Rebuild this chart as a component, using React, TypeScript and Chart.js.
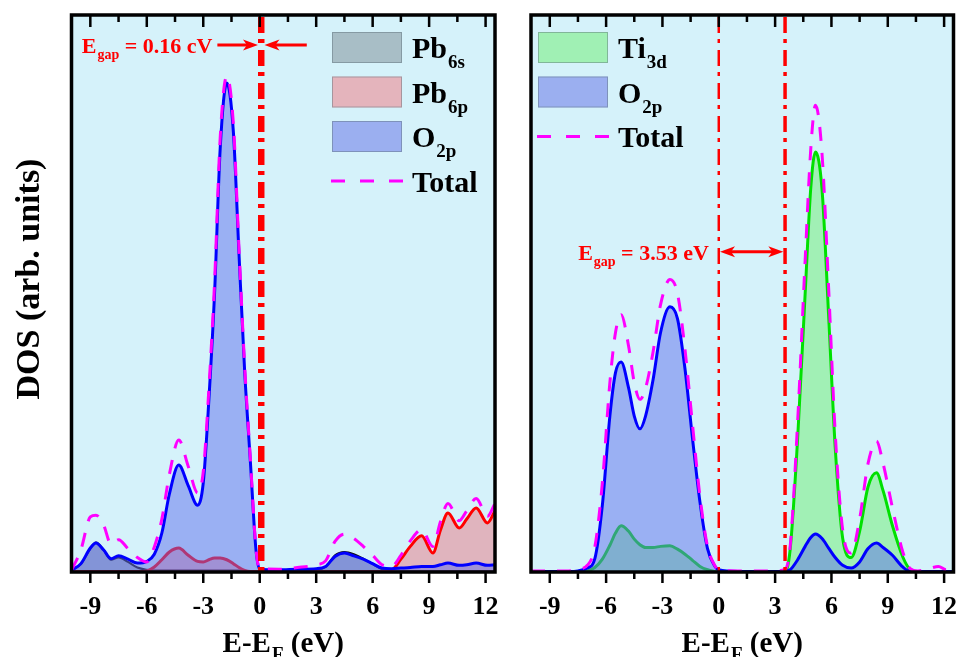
import React, { useEffect, useRef } from 'react';
import { Chart, registerables } from 'chart.js';

Chart.register(...registerables);

// ---------------- data ----------------
const xRange = [-10, 12.5];
const yRange = [0, 100];
const tickLabels = [-9, -6, -3, 0, 3, 6, 9, 12];
const allTicks = [-9, -7.5, -6, -4.5, -3, -1.5, 0, 1.5, 3, 4.5, 6, 7.5, 9, 10.5, 12];

// Left panel (Pb-O)
const leftEnergy = [-10, -9.5, -9.0, -8.7, -8.3, -7.9, -7.5, -7.0, -6.5, -6.0, -5.6, -5.2, -4.8, -4.3, -3.8, -3.3, -3.0, -2.7, -2.4, -2.1, -1.75, -1.4, -1.1, -0.8, -0.5, -0.2, 0, 1, 2, 3, 3.5, 4.0, 4.5, 5.0, 5.5, 6.0, 6.5, 7.0, 7.5, 8.0, 8.6, 9.2, 9.6, 10.0, 10.6, 11.0, 11.5, 12.1, 12.5];
const leftO2p = [0.3, 1.5, 4.3, 5.2, 4.0, 2.4, 2.9, 2.3, 1.6, 1.9, 3.2, 7.0, 14.0, 19.2, 15.5, 12.0, 16.0, 31, 50, 76, 87.8, 79, 57, 36, 20, 4, 0.5, 0.4, 0.5, 0.6, 1.0, 2.8, 3.4, 2.9, 2.3, 1.5, 0.7, 0.6, 0.7, 0.8, 1.0, 1.0, 1.3, 1.6, 1.2, 1.3, 1.6, 1.2, 1.3];
const leftPb6s = [0.3, 1.4, 4.2, 5.3, 4.0, 2.2, 2.6, 1.8, 0.8, 0.4, 0.3, 0.3, 0.3, 0.3, 0.3, 0.3, 0.3, 0.3, 0.3, 0.3, 0.3, 0.3, 0.3, 0.2, 0.2, 0.2, 0.2, 0.2, 0.3, 0.4, 0.9, 3.0, 3.6, 3.2, 2.4, 1.4, 0.5, 0.3, 0.2, 0.2, 0.2, 0.2, 0.2, 0.2, 0.2, 0.2, 0.2, 0.2, 0.2];
const leftPb6p = [0.1, 0.1, 0.1, 0.1, 0.1, 0.1, 0.1, 0.1, 0.1, 0.2, 0.9, 2.2, 3.6, 4.3, 3.0, 1.9, 1.8, 2.2, 2.5, 2.5, 2.2, 1.5, 0.8, 0.3, 0.1, 0.1, 0.1, 0.1, 0.1, 0.1, 0.1, 0.1, 0.1, 0.1, 0.1, 0.1, 0.1, 0.3, 2.3, 4.6, 6.5, 3.4, 7.5, 10.6, 7.9, 9.5, 11.5, 8.8, 11.0];
const leftTotal = [0.3, 4.0, 9.9, 10.2, 8.5, 5.0, 5.8, 4.2, 2.6, 1.8, 4.5, 9.5, 17.5, 23.7, 19.0, 14.2, 18.0, 33, 52, 78, 89, 80.5, 58, 37, 20.5, 4.2, 0.6, 0.5, 0.8, 1.3, 2.0, 5.5, 6.8, 6.0, 4.6, 3.0, 1.3, 1.0, 3.0, 5.6, 7.6, 4.6, 9.0, 12.3, 9.2, 11.0, 13.2, 10.0, 12.3];

// Right panel (Ti-O)
const rightEnergy = [-10, -9, -8, -7.5, -7.0, -6.6, -6.2, -5.8, -5.5, -5.2, -4.8, -4.5, -4.2, -3.9, -3.5, -3.1, -2.6, -2.2, -1.8, -1.4, -1.0, -0.6, -0.2, 0, 1, 2, 3, 3.5, 3.8, 4.2, 4.6, 4.9, 5.15, 5.5, 5.85, 6.2, 6.6, 7.05, 7.5, 7.95, 8.4, 8.75, 9.25, 9.8, 10.2, 10.6, 11.2, 11.7, 12.1, 12.5];
const rightO2p = [0.1, 0.1, 0.1, 0.2, 0.7, 2.4, 12, 28, 35.8, 37.7, 33, 28, 25.7, 28, 34.5, 43, 47.6, 45.5, 36.5, 24, 12.5, 4.2, 1.0, 0.4, 0.1, 0.1, 0.1, 0.1, 0.4, 2.2, 4.6, 6.2, 6.8, 6.0, 4.3, 2.6, 1.2, 0.7, 1.8, 4.2, 5.2, 4.4, 3.0, 0.9, 0.1, 0.1, 0.1, 0.1, 0.1, 0.1];
const rightTi3d = [0, 0, 0, 0, 0.2, 0.8, 2.3, 4.8, 7.0, 8.3, 7.3, 5.9, 4.9, 4.4, 4.4, 4.6, 4.7, 4.1, 3.2, 2.1, 1.0, 0.4, 0.1, 0, 0, 0, 0, 0, 4, 24, 50, 69, 75.4, 68.6, 46, 22.4, 6.0, 2.6, 7.3, 15.3, 17.8, 14.6, 8.3, 2.7, 0.4, 0, 0, 0, 0, 0];
const rightTotal = [0.2, 0.2, 0.2, 0.5, 1.2, 4.5, 16, 34, 43, 46.2, 40.5, 34, 31, 33, 39.5, 48, 52.5, 50, 40, 26.5, 13.5, 4.6, 1.1, 0.4, 0.2, 0.2, 0.2, 0.4, 4.5, 27, 56, 76, 83.8, 75, 51, 25, 7.5, 3.4, 9.5, 19.5, 23.5, 19.5, 11.5, 3.6, 0.6, 0.2, 0.6, 1.0, 0.4, 0.4];

// legend texts (in legend order, top to bottom)
const leftLegendMain = ['Pb', 'Pb', 'O', 'Total'];
const leftLegendSub = ['6s', '6p', '2p', ''];
const rightLegendMain = ['Ti', 'O', 'Total'];
const rightLegendSub = ['3d', '2p', ''];

// band gap annotations
const leftGapLines = [0, 0.16];
const leftGapText = ['E', 'gap', ' = 0.16 cV'];
const leftGapArrowY = 94.6;
const leftGapArrowFrom = [-2.25, 2.5];
const rightGapLines = [0, 3.53];
const rightGapText = ['E', 'gap', ' = 3.53 eV'];
const rightGapArrowY = 57.5;

const xTitle = ['E-E', 'F', ' (eV)'];
const yTitle = 'DOS (arb. units)';

// ---------------- styles ----------------
const FONT = '"Liberation Serif", "Times New Roman", Times, serif';
const BG = 'rgb(213, 242, 250)';
const RED = '#ff0000';
const MAGENTA = '#ff00ff';

const STY = {
  total: { line: MAGENTA, fill: null as string | null, width: 3, dash: [14, 12], swatch: '' },
  o2p: { line: '#0000ff', fill: 'rgba(96,110,235,0.5)', width: 3, dash: [] as number[], swatch: 'rgb(155,175,240)' },
  pb6p: { line: '#ff0000', fill: 'rgba(236,118,130,0.5)', width: 3, dash: [] as number[], swatch: 'rgb(228,180,188)' },
  pb6s: { line: '#111111', fill: 'rgba(120,130,140,0.5)', width: 2, dash: [] as number[], swatch: 'rgb(168,190,198)' },
  ti3d: { line: '#00e000', fill: 'rgba(110,238,112,0.5)', width: 3, dash: [] as number[], swatch: 'rgb(160,240,180)' },
};

type Sty = typeof STY.total;

function ds(label: string, energy: number[], values: number[], s: Sty) {
  return {
    label,
    data: energy.map((e, i) => ({ x: e, y: values[i] })),
    borderColor: s.line,
    backgroundColor: s.fill || 'transparent',
    borderWidth: s.width,
    borderDash: s.dash,
    fill: s.fill ? 'origin' : false,
    pointRadius: 0,
    cubicInterpolationMode: 'monotone' as const,
  };
}

function drawSubText(
  ctx: CanvasRenderingContext2D,
  parts: string[],
  x: number,
  baseline: number,
  mainSize: number,
  subSize: number,
  subOffset: number,
  align: 'left' | 'right' | 'center',
) {
  const mainFont = `bold ${mainSize}px ${FONT}`;
  const subFont = `bold ${subSize}px ${FONT}`;
  ctx.font = mainFont;
  const w0 = ctx.measureText(parts[0]).width;
  ctx.font = subFont;
  const w1 = ctx.measureText(parts[1] || '').width;
  ctx.font = mainFont;
  const w2 = ctx.measureText(parts[2] || '').width;
  const total = w0 + w1 + w2 + (parts[1] ? 1 : 0);
  let sx = x;
  if (align === 'right') sx = x - total;
  if (align === 'center') sx = x - total / 2;
  ctx.textAlign = 'left';
  ctx.textBaseline = 'alphabetic';
  ctx.font = mainFont;
  ctx.fillText(parts[0], sx, baseline);
  if (parts[1]) {
    ctx.font = subFont;
    ctx.fillText(parts[1], sx + w0 + 1, baseline + subOffset);
  }
  if (parts[2]) {
    ctx.font = mainFont;
    ctx.fillText(parts[2], sx + w0 + w1 + 1, baseline);
  }
}

function arrowHead(ctx: CanvasRenderingContext2D, x: number, y: number, dir: number) {
  ctx.beginPath();
  ctx.moveTo(x, y);
  ctx.lineTo(x - dir * 15, y - 5.5);
  ctx.lineTo(x - dir * 11, y);
  ctx.lineTo(x - dir * 15, y + 5.5);
  ctx.closePath();
  ctx.fill();
}

interface Decor {
  legendMain: string[];
  legendSub: string[];
  legendSty: Sty[];
  legendX: number; // offset from chartArea.left
  vlines: number[];
  vwidths: number[];
  gapText: string[];
  gapY: number;
  mode: 'converge' | 'between';
  arrowFrom?: number[];
  yTitle: boolean;
}

function decorPlugin(d: Decor) {
  return {
    id: 'decor',
    beforeDraw(chart: any) {
      const { ctx, chartArea: a } = chart;
      ctx.save();
      ctx.fillStyle = BG;
      ctx.fillRect(a.left, a.top, a.right - a.left, a.bottom - a.top);
      ctx.restore();
    },
    afterDraw(chart: any) {
      const { ctx, chartArea: a, scales } = chart;
      const x = scales.x;
      const y = scales.y;
      ctx.save();
      // vertical dash-dot lines
      ctx.save();
      ctx.beginPath();
      ctx.rect(a.left, a.top, a.right - a.left, a.bottom - a.top);
      ctx.clip();
      ctx.strokeStyle = RED;
      ctx.setLineDash([16, 6, 4, 7]);
      d.vlines.forEach((v, i) => {
        const px = x.getPixelForValue(v);
        ctx.lineWidth = d.vwidths[i];
        ctx.beginPath();
        ctx.moveTo(px, a.top + 2);
        ctx.lineTo(px, a.bottom);
        ctx.stroke();
      });
      ctx.restore();

      // arrows + gap text
      ctx.setLineDash([]);
      ctx.strokeStyle = RED;
      ctx.fillStyle = RED;
      ctx.lineWidth = 3;
      const ay = y.getPixelForValue(d.gapY);
      const p0 = x.getPixelForValue(d.vlines[0]) - d.vwidths[0] / 2;
      const p1 = x.getPixelForValue(d.vlines[1]) + d.vwidths[1] / 2;
      let textEnd = 0;
      if (d.mode === 'converge' && d.arrowFrom) {
        const s0 = x.getPixelForValue(d.arrowFrom[0]);
        const s1 = x.getPixelForValue(d.arrowFrom[1]);
        ctx.beginPath();
        ctx.moveTo(s0, ay);
        ctx.lineTo(p0 - 10, ay);
        ctx.moveTo(s1, ay);
        ctx.lineTo(p1 + 10, ay);
        ctx.stroke();
        arrowHead(ctx, p0, ay, 1);
        arrowHead(ctx, p1, ay, -1);
        textEnd = s0 - 5;
      } else {
        const q0 = x.getPixelForValue(d.vlines[0]) + d.vwidths[0] / 2;
        const q1 = x.getPixelForValue(d.vlines[1]) - d.vwidths[1] / 2;
        ctx.beginPath();
        ctx.moveTo(q0 + 10, ay);
        ctx.lineTo(q1 - 10, ay);
        ctx.stroke();
        arrowHead(ctx, q0, ay, -1);
        arrowHead(ctx, q1, ay, 1);
        textEnd = x.getPixelForValue(d.vlines[0]) - 10;
      }
      drawSubText(ctx, d.gapText, textEnd, ay + 8, 22, 14, 6, 'right');

      // legend
      const lx = a.left + d.legendX;
      d.legendMain.forEach((m, i) => {
        const top = 32 + i * 44.5;
        const cy = top + 15.5;
        const s = d.legendSty[i];
        if (s.fill) {
          ctx.fillStyle = s.swatch;
          ctx.fillRect(lx, top, 70, 31);
          ctx.strokeStyle = 'rgba(90,110,120,0.45)';
          ctx.lineWidth = 1;
          ctx.strokeRect(lx + 0.5, top + 0.5, 69, 30);
        } else {
          ctx.strokeStyle = s.line;
          ctx.lineWidth = 3;
          ctx.setLineDash([14, 15]);
          ctx.beginPath();
          ctx.moveTo(lx - 1, cy);
          ctx.lineTo(lx + 72, cy);
          ctx.stroke();
          ctx.setLineDash([]);
        }
        ctx.fillStyle = '#000';
        drawSubText(ctx, [m, d.legendSub[i], ''], lx + 80, cy + 10.5, 30, 19, 10, 'left');
      });

      // frame
      ctx.strokeStyle = '#000';
      ctx.lineWidth = 3.5;
      ctx.strokeRect(a.left, a.top, a.right - a.left, a.bottom - a.top);

      // tick marks
      ctx.lineWidth = 2.5;
      ctx.beginPath();
      allTicks.forEach((v) => {
        const px = x.getPixelForValue(v);
        const major = tickLabels.includes(v);
        ctx.moveTo(px, a.bottom);
        ctx.lineTo(px, a.bottom + (major ? 11 : 7));
        ctx.moveTo(px, a.top);
        ctx.lineTo(px, a.top + (major ? 12 : 7));
      });
      ctx.stroke();

      // x title
      ctx.fillStyle = '#000';
      drawSubText(ctx, xTitle, (a.left + a.right) / 2, 652, 29, 19, 8, 'center');

      // y title
      if (d.yTitle) {
        ctx.save();
        ctx.translate(39, 279);
        ctx.rotate(-Math.PI / 2);
        ctx.font = `bold 34px ${FONT}`;
        ctx.textAlign = 'center';
        ctx.textBaseline = 'alphabetic';
        ctx.fillText(yTitle, 0, 0);
        ctx.restore();
      }
      ctx.restore();
    },
  };
}

function makeConfig(datasets: any[], padding: any, decor: Decor): any {
  return {
    type: 'line',
    data: { datasets },
    options: {
      animation: false,
      responsive: false,
      devicePixelRatio: 1,
      events: [],
      layout: { padding },
      plugins: { legend: { display: false }, tooltip: { enabled: false } },
      scales: {
        x: {
          type: 'linear',
          min: xRange[0],
          max: xRange[1],
          grid: { display: false, drawTicks: false },
          border: { display: false },
          afterBuildTicks: (axis: any) => {
            axis.ticks = tickLabels.map((v) => ({ value: v }));
          },
          afterFit: (axis: any) => {
            axis.height = 85;
            axis.paddingLeft = 0;
            axis.paddingRight = 0;
          },
          ticks: {
            padding: 20,
            color: '#000',
            font: { family: FONT, size: 26, weight: 'bold' },
            callback: (v: number) => String(v),
            maxRotation: 0,
            autoSkip: false,
          },
        },
        y: {
          display: false,
          min: yRange[0],
          max: yRange[1],
        },
      },
    },
    plugins: [decorPlugin(decor)],
  };
}

export default function App() {
  const leftRef = useRef<HTMLCanvasElement>(null);
  const rightRef = useRef<HTMLCanvasElement>(null);

  useEffect(() => {
    document.body.style.margin = '0';
    const left = new Chart(
      leftRef.current as HTMLCanvasElement,
      makeConfig(
        [
          ds('Total', leftEnergy, leftTotal, STY.total),
          ds('O2p', leftEnergy, leftO2p, STY.o2p),
          ds('Pb6p', leftEnergy, leftPb6p, STY.pb6p),
          ds('Pb6s', leftEnergy, leftPb6s, STY.pb6s),
        ],
        { left: 71.5, right: 15, top: 15, bottom: 0 },
        {
          legendMain: leftLegendMain,
          legendSub: leftLegendSub,
          legendSty: [STY.pb6s, STY.pb6p, STY.o2p, STY.total],
          legendX: 260.5,
          vlines: leftGapLines,
          vwidths: [3.5, 3.5],
          gapText: leftGapText,
          gapY: leftGapArrowY,
          mode: 'converge',
          arrowFrom: leftGapArrowFrom,
          yTitle: true,
        },
      ),
    );
    const right = new Chart(
      rightRef.current as HTMLCanvasElement,
      makeConfig(
        [
          ds('Total', rightEnergy, rightTotal, STY.total),
          ds('O2p', rightEnergy, rightO2p, STY.o2p),
          ds('Ti3d', rightEnergy, rightTi3d, STY.ti3d),
        ],
        { left: 21, right: 6.5, top: 15, bottom: 0 },
        {
          legendMain: rightLegendMain,
          legendSub: rightLegendSub,
          legendSty: [STY.ti3d, STY.o2p, STY.total],
          legendX: 7,
          vlines: rightGapLines,
          vwidths: [2.5, 3.5],
          gapText: rightGapText,
          gapY: rightGapArrowY,
          mode: 'between',
          yTitle: false,
        },
      ),
    );
    return () => {
      left.destroy();
      right.destroy();
    };
  }, []);

  return (
    <div style={{ position: 'absolute', left: 0, top: 0, width: 960, height: 657, background: '#fff', overflow: 'hidden' }}>
      <canvas ref={leftRef} width={510} height={657} style={{ position: 'absolute', left: 0, top: 0 }} />
      <canvas ref={rightRef} width={450} height={657} style={{ position: 'absolute', left: 510, top: 0 }} />
    </div>
  );
}
